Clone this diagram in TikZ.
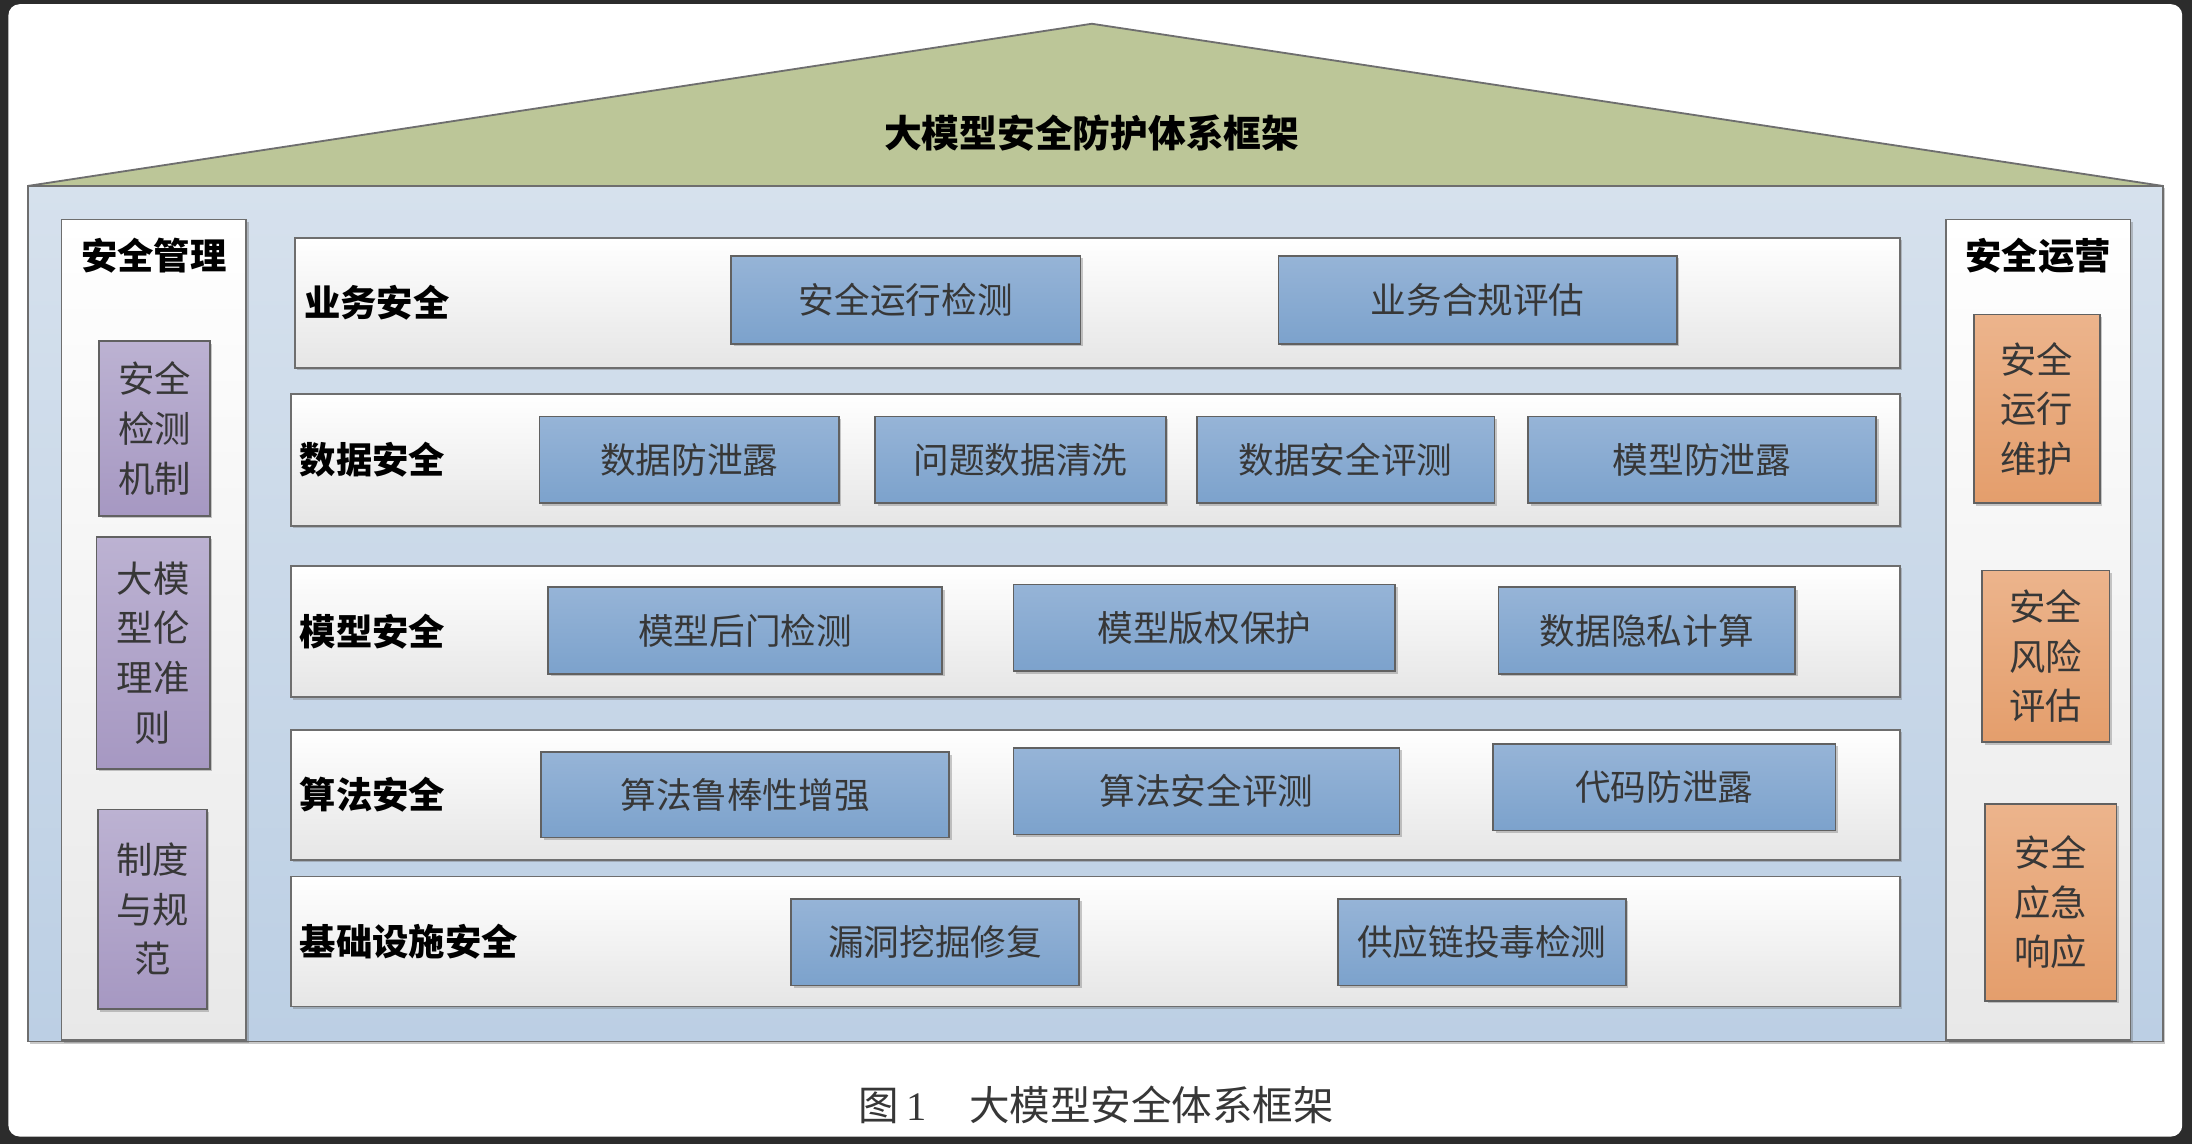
\documentclass[tikz,border=0pt]{standalone}
\usepackage{fontspec}
\setmainfont{Liberation Serif}
\newfontfamily\cjk{Noto Sans CJK SC}
\usetikzlibrary{shadows}
\definecolor{bgdark}{RGB}{44,44,44}
\definecolor{roofc}{RGB}{188,198,152}
\definecolor{bodytop}{RGB}{214,225,237}
\definecolor{bodybot}{RGB}{188,207,228}
\definecolor{blueA}{RGB}{150,180,215}
\definecolor{blueB}{RGB}{124,162,204}
\definecolor{purA}{RGB}{188,178,210}
\definecolor{purB}{RGB}{166,152,194}
\definecolor{orgA}{RGB}{236,180,140}
\definecolor{orgB}{RGB}{228,158,108}
\definecolor{txtc}{RGB}{55,55,55}
\definecolor{edgec}{RGB}{110,110,110}
\newcommand\bxfont{\cjk\fontsize{25.5pt}{30pt}\selectfont}
\newcommand\sdfont{\cjk\fontsize{26pt}{35.5pt}\selectfont}
\newcommand\lbfont{\cjk\bfseries\fontsize{26pt}{30pt}\selectfont}
\tikzset{
  shd/.style={drop shadow={shadow xshift=1.8pt,shadow yshift=-1.8pt,opacity=.35,fill=black!60}},
  rowpanel/.style={draw=edgec,line width=1.3pt,top color=white,bottom color=black!10,
    minimum width=1151pt,minimum height=93pt,inner sep=0pt,shd},
  sidepanel/.style={draw=edgec,line width=1.3pt,top color=white,bottom color=black!9,
    minimum width=132pt,minimum height=587pt,inner sep=0pt,shd},
  bluebox/.style={draw=black!62,line width=1.2pt,top color=blueA,bottom color=blueB,
    minimum height=62pt,inner sep=0pt,text=txtc,font=\bxfont,shd},
  purbox/.style={draw=black!62,line width=1.2pt,top color=purA,bottom color=purB,
    inner sep=0pt,text=txtc,font=\sdfont,align=center,shd},
  orgbox/.style={draw=black!62,line width=1.2pt,top color=orgA,bottom color=orgB,
    inner sep=0pt,text=txtc,font=\sdfont,align=center,shd},
  rowlabel/.style={anchor=west,inner sep=0pt,font=\lbfont,text=black},
  sidetitle/.style={inner sep=0pt,font=\lbfont,text=black},
}
\begin{document}
\begin{tikzpicture}[x=1pt,y=-1pt]
\useasboundingbox (0,0) rectangle (1568,818);
\fill[bgdark] (0,0) rectangle (1568,818);
\fill[white,rounded corners=8pt] (6,3) rectangle (1561,813);
% house body
\path[draw=edgec,line width=1.3pt,top color=bodytop,bottom color=bodybot,shd]
  (20,133) rectangle (1547,745);
% roof
\path[draw=edgec,line width=1.3pt,fill=roofc] (20,133) -- (781,17) -- (1547,133) -- cycle;
\node[inner sep=0pt,font=\cjk\bfseries\fontsize{27pt}{30pt}\selectfont] (title) at (781,95) {大模型安全防护体系框架};
% side panels
\node[sidepanel] (L) at (110,450.5) {};
\node[sidepanel] (R) at (1458,450.5) {};
\node[sidetitle] (Lt) at (110,183) {安全管理};
\node[sidetitle] (Rt) at (1458,183) {安全运营};
\node[purbox,minimum width=79pt,minimum height=125pt] (p1) at (110.5,306.5) {安全\\检测\\机制};
\node[purbox,minimum width=81pt,minimum height=166pt] (p2) at (109.5,467) {大模\\型伦\\理准\\则};
\node[purbox,minimum width=78pt,minimum height=143pt] (p3) at (109,650.5) {制度\\与规\\范};
\node[orgbox,minimum width=90pt,minimum height=135pt] (o1) at (1457,292.5) {安全\\运行\\维护};
\node[orgbox,minimum width=91pt,minimum height=123pt] (o2) at (1463.5,469.5) {安全\\风险\\评估};
\node[orgbox,minimum width=94pt,minimum height=141pt] (o3) at (1467,645.5) {安全\\应急\\响应};
% rows
\node[rowpanel,minimum width=1148pt] (r1) at (785,216.5) {};
\node[rowpanel,minimum height=94pt] (r2) at (783.5,329) {};
\node[rowpanel,minimum height=94pt] (r3) at (783.5,451.6) {};
\node[rowpanel] (r4) at (783.5,568.4) {};
\node[rowpanel] (r5) at (783.5,673.5) {};
\node[rowlabel] (l1) at ([xshift=7pt]r1.west) {业务安全};
\node[rowlabel] (l2) at ([xshift=7pt]r2.west) {数据安全};
\node[rowlabel] (l3) at ([xshift=7pt]r3.west) {模型安全};
\node[rowlabel] (l4) at ([xshift=7pt]r4.west) {算法安全};
\node[rowlabel] (l5) at ([xshift=7pt]r5.west) {基础设施安全};
% blue boxes
\node[bluebox,minimum width=250pt,minimum height=63pt] (b11) at (648,214.5) {安全运行检测};
\node[bluebox,minimum width=285pt,minimum height=63pt] (b12) at (1057,214.5) {业务合规评估};
\node[bluebox,minimum width=214pt] (b21) at (493,329) {数据防泄露};
\node[bluebox,minimum width=208pt] (b22) at (730,329) {问题数据清洗};
\node[bluebox,minimum width=213pt] (b23) at (962.5,329) {数据安全评测};
\node[bluebox,minimum width=249pt] (b24) at (1217.5,329) {模型防泄露};
\node[bluebox,minimum width=282pt] (b31) at (533,451) {模型后门检测};
\node[bluebox,minimum width=273pt] (b32) at (861.5,449) {模型版权保护};
\node[bluebox,minimum width=212pt] (b33) at (1178,451) {数据隐私计算};
\node[bluebox,minimum width=292pt,minimum height=61pt] (b41) at (533,568.5) {算法鲁棒性增强};
\node[bluebox,minimum width=276pt] (b42) at (863,566) {算法安全评测};
\node[bluebox,minimum width=245pt] (b43) at (1190.5,563) {代码防泄露};
\node[bluebox,minimum width=206pt] (b51) at (669,674) {漏洞挖掘修复};
\node[bluebox,minimum width=206pt] (b52) at (1060,674) {供应链投毒检测};
% caption
\node[inner sep=0pt,text=txtc,font=\fontsize{29pt}{32pt}\selectfont] (cap) at (784,790)
  {{\cjk 图}\hspace{6pt}1\hspace{30pt}{\cjk 大模型安全体系框架}};
\end{tikzpicture}
\end{document}
